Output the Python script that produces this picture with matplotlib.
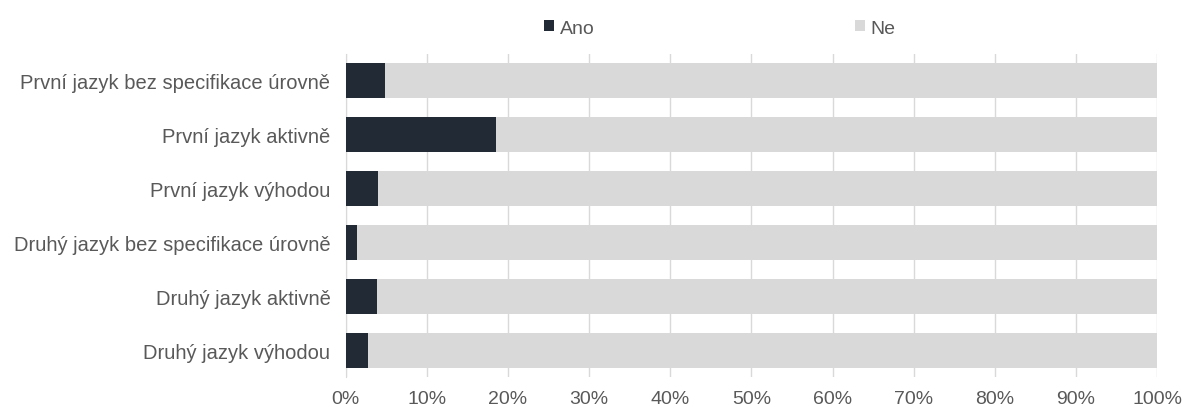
import matplotlib.pyplot as plt
import numpy as np

# data (share in %)
categories = [
    "První jazyk bez specifikace úrovně",
    "První jazyk aktivně",
    "První jazyk výhodou",
    "Druhý jazyk bez specifikace úrovně",
    "Druhý jazyk aktivně",
    "Druhý jazyk výhodou",
]
ano = [4.9, 18.5, 4.0, 1.35, 3.8, 2.7]
ne = [100 - a for a in ano]

plt.rcParams['font.family'] = ['Liberation Sans', 'DejaVu Sans']

fig = plt.figure(figsize=(11.85, 4.10), dpi=100)
ax = fig.add_axes([0.2917, 0.078, 0.6849, 0.788])

y = np.arange(len(categories))
ax.barh(y, ano, height=0.65, color='#222a35', label='Ano', zorder=3)
ax.barh(y, ne, left=ano, height=0.65, color='#d9d9d9', label='Ne', zorder=3)

ax.set_xlim(0, 100)
ax.set_ylim(len(categories) - 0.5, -0.5)
ax.set_yticks(y)
ax.set_yticklabels(categories, fontsize=14.5)
ax.set_xticks(range(0, 101, 10))
ax.set_xticklabels([f"{v}%" for v in range(0, 101, 10)], fontsize=14)

ax.grid(axis='x', color='#d9d9d9', linewidth=1, zorder=0)
for s in ['top', 'right', 'bottom']:
    ax.spines[s].set_visible(False)
ax.spines['left'].set_color('#d9d9d9')
ax.tick_params(axis='both', length=0, labelcolor='#595959')
ax.tick_params(axis='y', pad=11)
ax.tick_params(axis='x', pad=9)

ax.legend(loc='center', bbox_to_anchor=(0.461, 1.08), ncol=2, frameon=False,
          fontsize=14, labelcolor='#595959', handlelength=0.5, handleheight=0.5,
          handletextpad=0.3, columnspacing=13.4)

fig.savefig('out.png', dpi=100)
